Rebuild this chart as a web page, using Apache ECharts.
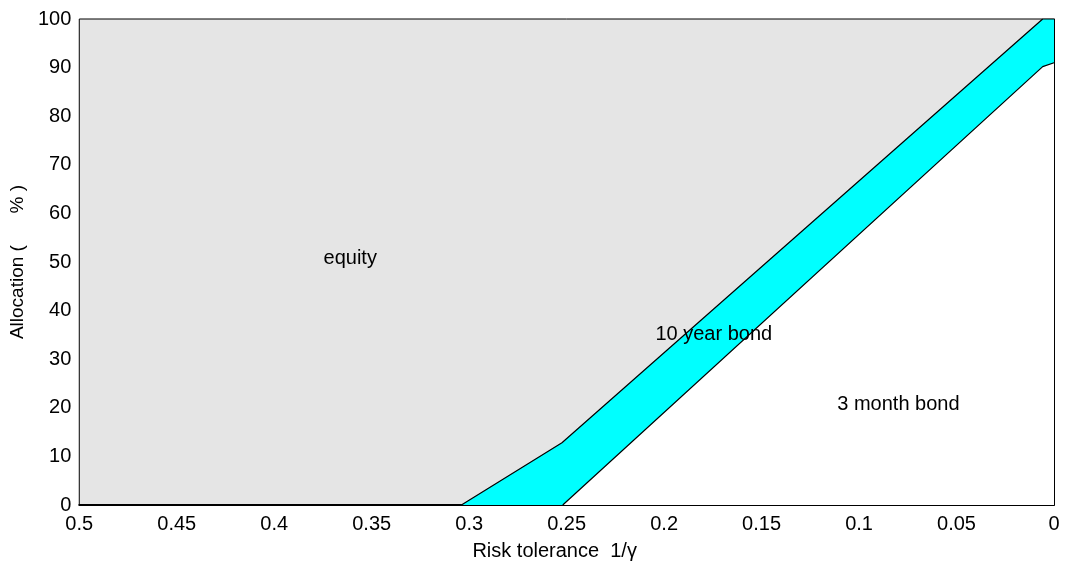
<!DOCTYPE html>
<html>
<head>
<meta charset="utf-8">
<script src="https://cdn.jsdelivr.net/npm/echarts@6/dist/echarts.min.js"></script>
<style>html,body{margin:0;padding:0;background:#fff}#c{width:1065px;height:566px}</style>
</head>
<body>
<div id="c"></div>
<script>
// Boundary between equity and 10 year bond (x = 1/gamma, y = %)
var upperX = [0.304, 0.2524, 0.0058, 0];
var upperY = [0, 12.8, 100, 100];
// Boundary between 10 year bond and 3 month bond
var lowerX = [0.252, 0.0058, 0];
var lowerY = [0, 90.2, 91.0];
// Region labels
var regionNames = ['equity', '10 year bond', '3 month bond'];
var regionX = [0.361, 0.1745, 0.0798];
var regionY = [50.7, 35.0, 20.7];
// Tick labels
var xTicks = [0.5, 0.45, 0.4, 0.35, 0.3, 0.25, 0.2, 0.15, 0.1, 0.05, 0];
var yTicks = [0, 10, 20, 30, 40, 50, 60, 70, 80, 90, 100];

function pairs(xs, ys) { return xs.map(function (x, i) { return [x, ys[i]]; }); }

var font = 'Liberation Sans, Arial, sans-serif';
var chart = echarts.init(document.getElementById('c'), null, { renderer: 'canvas' });
chart.setOption({
  animation: false,
  backgroundColor: '#ffffff',
  grid: {
    left: 79, right: 11, top: 19, bottom: 60,
    show: true, backgroundColor: '#e5e5e5', borderColor: '#000', borderWidth: 1
  },
  xAxis: {
    type: 'value', inverse: true, min: 0, max: 0.5, interval: 0.05,
    name: 'Risk tolerance  1/\u03b3', nameLocation: 'middle', nameGap: 36,
    nameTextStyle: { color: '#000', fontSize: 20, fontFamily: font, padding: [0, 24, 0, 0] },
    axisLine: { show: true, lineStyle: { color: '#000', width: 2 } },
    axisTick: { show: false },
    splitLine: { show: false },
    axisLabel: {
      color: '#000', fontSize: 20, fontFamily: font, margin: 9,
      formatter: function (v) { var t = xTicks.filter(function (k) { return Math.abs(k - v) < 1e-9; }); return t.length ? String(t[0]) : ''; }
    }
  },
  yAxis: {
    type: 'value', min: 0, max: 100, interval: 10,
    name: 'Allocation (      % )', nameLocation: 'middle', nameGap: 43, nameRotate: 90,
    nameTextStyle: { color: '#000', fontSize: 19, fontFamily: font },
    axisLine: { show: true, lineStyle: { color: '#000', width: 1 } },
    axisTick: { show: false },
    splitLine: { show: false },
    axisLabel: {
      color: '#000', fontSize: 20, fontFamily: font, margin: 8,
      formatter: function (v) { return yTicks.indexOf(v) >= 0 ? String(v) : ''; }
    }
  },
  series: [
    {
      type: 'line', data: pairs(upperX, upperY), symbol: 'none',
      lineStyle: { color: '#000', width: 1.2 },
      areaStyle: { color: '#00ffff', opacity: 1 }, z: 2
    },
    {
      type: 'line', data: pairs(lowerX, lowerY), symbol: 'none',
      lineStyle: { color: '#000', width: 1.2 },
      areaStyle: { color: '#ffffff', opacity: 1 }, z: 3
    },
    {
      type: 'scatter', symbolSize: 0, z: 5,
      itemStyle: { opacity: 1 },
      data: regionNames.map(function (n, i) { return { value: [regionX[i], regionY[i]], name: n }; }),
      label: {
        show: true, position: 'inside', formatter: '{b}',
        color: '#000', opacity: 1, fontSize: 20, fontFamily: font
      }
    }
  ]
});
</script>
</body>
</html>
